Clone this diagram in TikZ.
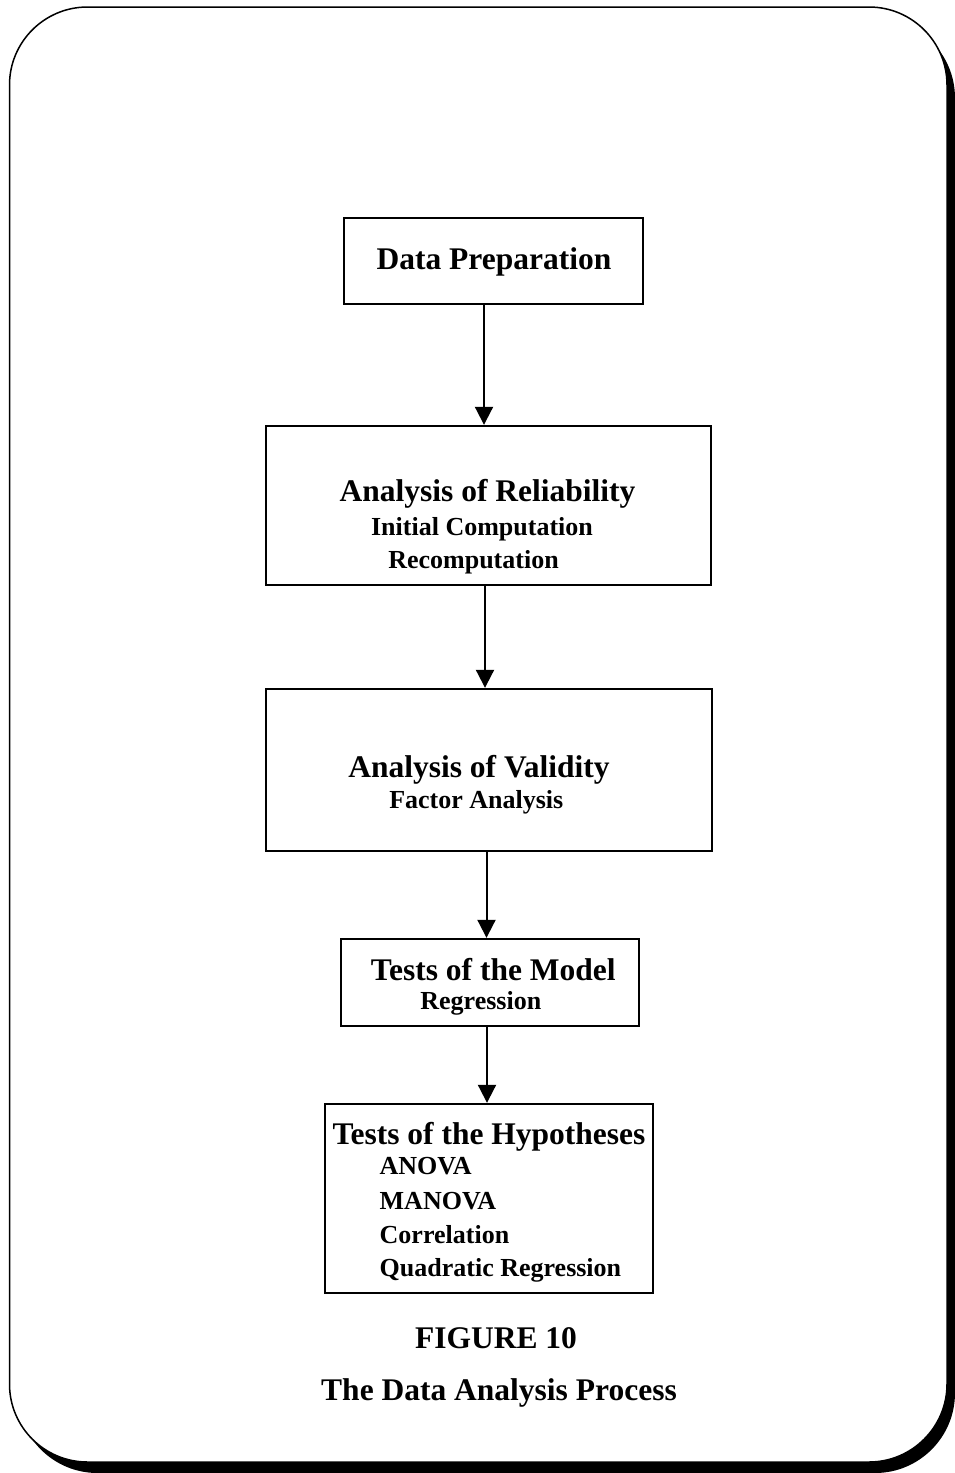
\documentclass[tikz,border=0pt]{standalone}
\usepackage{fontspec}
\setmainfont{Liberation Serif}
\usetikzlibrary{arrows.meta}
\begin{document}
\begin{tikzpicture}[x=1pt,y=-1pt,
  stagebox/.style={draw=black, line width=2.4pt, fill=white, inner sep=0pt},
  head/.style={font=\fontsize{31.5}{36}\selectfont\bfseries, anchor=base, inner sep=0pt},
  sub/.style={font=\fontsize{26}{30}\selectfont\bfseries, anchor=base, inner sep=0pt},
  subleft/.style={font=\fontsize{26}{30}\selectfont\bfseries, anchor=base west, inner sep=0pt},
  flow/.style={draw=black, line width=2pt, -{Triangle[width=18pt,length=18pt]}}
]
\useasboundingbox (0,0) rectangle (955,1473);

% page frame with drop shadow
\fill[black, rounded corners=80pt] (17.5,18) rectangle (955,1473);
\draw[black, fill=white, line width=1.5pt, rounded corners=78pt] (9.5,7) rectangle (947,1462);

% stage boxes
\node[stagebox, minimum width=299pt, minimum height=86pt]  (dp)  at (493.5,261) {};
\node[stagebox, minimum width=445pt, minimum height=159pt] (rel) at (488.5,505.5) {};
\node[stagebox, minimum width=446pt, minimum height=162pt] (val) at (489,770) {};
\node[stagebox, minimum width=298pt, minimum height=87pt]  (mod) at (490,982.5) {};
\node[stagebox, minimum width=328pt, minimum height=189pt] (hyp) at (489,1198.5) {};

% box texts
\node[head] (tdp)  at (494,269)   {Data Preparation};
\node[head] (trel) at (487.5,501) {Analysis of Reliability};
\node[sub]  (trel1) at (482,535)  {Initial Computation};
\node[sub]  (trel2) at (473.5,568) {Recomputation};
\node[head] (tval) at (479,777)   {Analysis of Validity};
\node[sub]  (tval1) at (476.3,808) {Factor Analysis};
\node[head] (tmod) at (493.3,980) {Tests of the Model};
\node[sub]  (tmod1) at (480.8,1009) {Regression};
\node[head] (thyp) at (489,1144)  {Tests of the Hypotheses};
\node[subleft] (h1) at (379.5,1174) {ANOVA};
\node[subleft] (h2) at (379.5,1209) {MANOVA};
\node[subleft] (h3) at (379.5,1243) {Correlation};
\node[subleft] (h4) at (379.5,1276) {Quadratic Regression};

% caption
\node[head] (cap1) at (496,1348) {FIGURE 10};
\node[head] (cap2) at (499,1400) {The Data Analysis Process};

% connectors
\coordinate (a1) at (484,0);
\coordinate (a2) at (485,0);
\coordinate (a3) at (486.5,0);
\coordinate (a4) at (487,0);
\draw[flow] (dp.south -| a1) -- (rel.north -| a1);
\draw[flow] (rel.south -| a2) -- (val.north -| a2);
\draw[flow] (val.south -| a3) -- (mod.north -| a3);
\draw[flow] (mod.south -| a4) -- (hyp.north -| a4);
\end{tikzpicture}
\end{document}
